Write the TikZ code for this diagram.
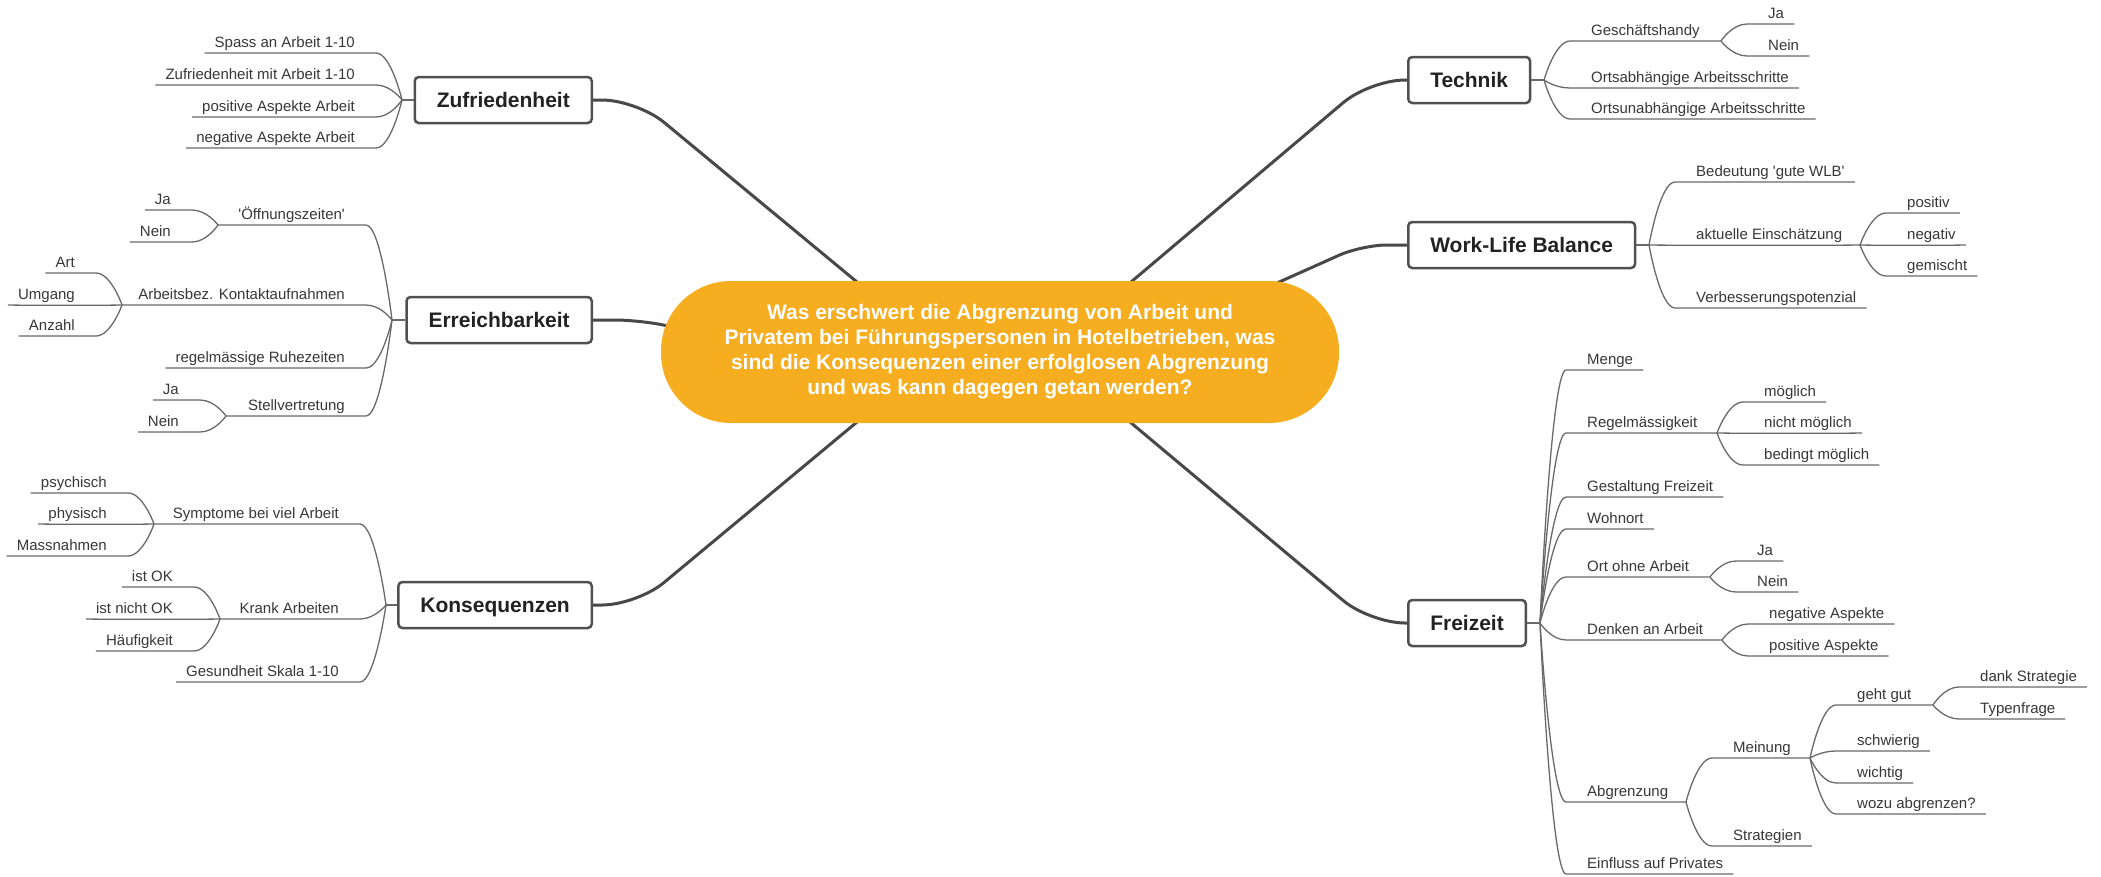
\documentclass[tikz,border=0pt]{standalone}
\usepackage{fontspec}
\newfontfamily\lsans{Liberation Sans}
\usetikzlibrary{calc}
\definecolor{orng}{RGB}{246,173,31}
\definecolor{boxline}{RGB}{80,80,80}
\definecolor{connc}{RGB}{72,72,72}
\definecolor{leafline}{RGB}{105,105,105}
\definecolor{txt}{RGB}{55,55,55}
\definecolor{btxt}{RGB}{34,34,34}
\tikzset{
  mainbox/.style={draw=boxline, line width=2.5pt, rounded corners=4pt, fill=white,
    font=\lsans\fontsize{21}{25}\selectfont\bfseries, text=btxt, inner xsep=22pt, inner ysep=0pt,
    text height=15pt, text depth=0pt, minimum height=46pt},
  centerbox/.style={fill=orng, rounded corners=70pt, minimum width=678pt, minimum height=142pt,
    font=\lsans\fontsize{21}{25}\selectfont\bfseries, text=white, align=center, inner sep=0pt},
  leaf/.style={font=\lsans\fontsize{15}{18}\selectfont, text=txt, inner sep=0pt,
    text height=11pt, text depth=5.5pt},
  ul/.style={draw=leafline, line width=1.3pt},
  mainconn/.style={draw=connc, line width=3pt},
  brL/.style={to path={.. controls +(0,0) and +(15,0) .. (\tikztotarget)}},
  brR/.style={to path={.. controls +(0,0) and +(-15,0) .. (\tikztotarget)}},
  flatL/.style={to path={.. controls +(-20,0.4) and +(20,0.4) .. (\tikztotarget)}},
  flatR/.style={to path={.. controls +(20,0.4) and +(-20,0.4) .. (\tikztotarget)}},
}
% left leaf / left parent / left middle leaf
\newcommand\mmLL[5]{%
  \node[leaf,anchor=south east] (#1) at (#3-47,#4) {#5};
  \draw[ul] (#2) to[brL] ([xshift=21pt]#1.south east) -- ([xshift=-10pt]#1.south west);
}
\newcommand\mmLP[6]{%
  \node[leaf,anchor=south east] (#1) at (#3-47,#4) {#6};
  \coordinate (#1j) at (#5,#4);
  \draw[ul] (#2) to[brL] ([xshift=21pt]#1.south east) -- (#1j);
}
\newcommand\mmLM[5]{%
  \node[leaf,anchor=south east] (#1) at (#3-47,#4) {#5};
  \draw[ul] (#2) to[flatL] ([xshift=-10pt]#1.south west);
}
% right leaf / right parent / right middle parent / right middle leaf
\newcommand\mmRL[5]{%
  \node[leaf,anchor=south west] (#1) at (#3+47,#4) {#5};
  \draw[ul] (#2) to[brR] ([xshift=-21pt]#1.south west) -- ([xshift=10pt]#1.south east);
}
\newcommand\mmRP[6]{%
  \node[leaf,anchor=south west] (#1) at (#3+47,#4) {#6};
  \coordinate (#1j) at (#5,#4);
  \draw[ul] (#2) to[brR] ([xshift=-21pt]#1.south west) -- (#1j);
}
\newcommand\mmRPM[6]{%
  \node[leaf,anchor=south west] (#1) at (#3+47,#4) {#6};
  \coordinate (#1j) at (#5,#4);
  \draw[ul] (#2) to[flatR] (#1j);
}
\newcommand\mmRM[5]{%
  \node[leaf,anchor=south west] (#1) at (#3+47,#4) {#5};
  \draw[ul] (#2) to[flatR] ([xshift=10pt]#1.south east);
}
\begin{document}
\begin{tikzpicture}[x=1pt,y=-1pt]
\useasboundingbox (0,0) rectangle (2101,876);

% ---------- main topic boxes ----------
\node[mainbox, anchor=east] (Z) at (593,100) {Zufriedenheit};
\node[mainbox, anchor=east] (E) at (593,320) {Erreichbarkeit};
\node[mainbox, anchor=east] (K) at (593,605) {Konsequenzen};
\node[mainbox, anchor=west] (T) at (1407,80) {Technik};
\node[mainbox, anchor=west] (W) at (1407,245) {Work-Life Balance};
\node[mainbox, anchor=west] (F) at (1407,623) {Freizeit};

% ---------- attach points on the central topic ----------
\coordinate (qZ) at (857,282);
\coordinate (qE) at (668,326);
\coordinate (qK) at (857,422);
\coordinate (qT) at (1131,282);
\coordinate (qW) at (1277,283);
\coordinate (qF) at (1130,422);

\draw[mainconn, rounded corners=35pt] (Z.east) -- (637,100) -- (qZ);
\draw[mainconn, rounded corners=25pt] (E.east) -- (640,320) -- (qE);
\draw[mainconn, rounded corners=35pt] (K.east) -- (637,605) -- (qK);
\draw[mainconn, rounded corners=35pt] (T.west) -- (1370,80) -- (qT);
\draw[mainconn, rounded corners=25pt] (W.west) -- (1362,245) -- (qW);
\draw[mainconn, rounded corners=35pt] (F.west) -- (1370,623) -- (qF);

\node[centerbox] (Q) at (1000,352) {Was erschwert die Abgrenzung von Arbeit und\\Privatem bei Führungspersonen in Hotelbetrieben, was\\sind die Konsequenzen einer erfolglosen Abgrenzung\\und was kann dagegen getan werden?};

% ---------- Zufriedenheit ----------
\coordinate (jZ) at (402,100);
\draw[ul] (Z.west) -- (jZ);
\mmLL{z1}{jZ}{402}{53}{Spass an Arbeit 1-10}
\mmLL{z2}{jZ}{402}{85}{Zufriedenheit mit Arbeit 1-10}
\mmLL{z3}{jZ}{402}{117}{positive Aspekte Arbeit}
\mmLL{z4}{jZ}{402}{148}{negative Aspekte Arbeit}

% ---------- Erreichbarkeit ----------
\coordinate (jE) at (392,320);
\draw[ul] (E.west) -- (jE);
\mmLP{e1}{jE}{392}{225}{218}{'Öffnungszeiten'}
\mmLL{e11}{e1j}{218}{210}{Ja}
\mmLL{e12}{e1j}{218}{242}{Nein}
\mmLP{e2}{jE}{392}{305}{122}{Arbeitsbez. Kontaktaufnahmen}
\mmLL{e21}{e2j}{122}{273}{Art}
\mmLM{e22}{e2j}{122}{305}{Umgang}
\mmLL{e23}{e2j}{122}{336}{Anzahl}
\mmLL{e3}{jE}{392}{368}{regelmässige Ruhezeiten}
\mmLP{e4}{jE}{392}{416}{226}{Stellvertretung}
\mmLL{e41}{e4j}{226}{400}{Ja}
\mmLL{e42}{e4j}{226}{432}{Nein}

% ---------- Konsequenzen ----------
\coordinate (jK) at (386,605);
\draw[ul] (K.west) -- (jK);
\mmLP{k1}{jK}{386}{524}{154}{Symptome bei viel Arbeit}
\mmLL{k11}{k1j}{154}{493}{psychisch}
\mmLM{k12}{k1j}{154}{524}{physisch}
\mmLL{k13}{k1j}{154}{556}{Massnahmen}
\mmLP{k2}{jK}{386}{619}{220}{Krank Arbeiten}
\mmLL{k21}{k2j}{220}{587}{ist OK}
\mmLM{k22}{k2j}{220}{619}{ist nicht OK}
\mmLL{k23}{k2j}{220}{651}{Häufigkeit}
\mmLL{k3}{jK}{386}{682}{Gesundheit Skala 1-10}

% ---------- Technik ----------
\coordinate (jT) at (1544,80);
\draw[ul] (T.east) -- (jT);
\mmRP{t1}{jT}{1544}{41}{1721}{Geschäftshandy}
\mmRL{t11}{t1j}{1721}{24}{Ja}
\mmRL{t12}{t1j}{1721}{56}{Nein}
\mmRL{t2}{jT}{1544}{88}{Ortsabhängige Arbeitsschritte}
\mmRL{t3}{jT}{1544}{119}{Ortsunabhängige Arbeitsschritte}

% ---------- Work-Life Balance ----------
\coordinate (jW) at (1649,245);
\draw[ul] (W.east) -- (jW);
\mmRL{w1}{jW}{1649}{182}{Bedeutung 'gute WLB'}
\mmRPM{w2}{jW}{1649}{245}{1860}{aktuelle Einschätzung}
\mmRL{w21}{w2j}{1860}{213}{positiv}
\mmRM{w22}{w2j}{1860}{245}{negativ}
\mmRL{w23}{w2j}{1860}{276}{gemischt}
\mmRL{w3}{jW}{1649}{308}{Verbesserungspotenzial}

% ---------- Freizeit ----------
\coordinate (jF) at (1540,623);
\draw[ul] (F.east) -- (jF);
\mmRL{f1}{jF}{1540}{370}{Menge}
\mmRP{f2}{jF}{1540}{433}{1717}{Regelmässigkeit}
\mmRL{f21}{f2j}{1717}{402}{möglich}
\mmRM{f22}{f2j}{1717}{433}{nicht möglich}
\mmRL{f23}{f2j}{1717}{465}{bedingt möglich}
\mmRL{f3}{jF}{1540}{497}{Gestaltung Freizeit}
\mmRL{f4}{jF}{1540}{529}{Wohnort}
\mmRP{f5}{jF}{1540}{577}{1710}{Ort ohne Arbeit}
\mmRL{f51}{f5j}{1710}{561}{Ja}
\mmRL{f52}{f5j}{1710}{592}{Nein}
\mmRP{f6}{jF}{1540}{640}{1722}{Denken an Arbeit}
\mmRL{f61}{f6j}{1722}{624}{negative Aspekte}
\mmRL{f62}{f6j}{1722}{656}{positive Aspekte}
\mmRP{f7}{jF}{1540}{802}{1686}{Abgrenzung}
\mmRP{f71}{f7j}{1686}{758}{1810}{Meinung}
\mmRP{f711}{f71j}{1810}{705}{1933}{geht gut}
\mmRL{f7111}{f711j}{1933}{687}{dank Strategie}
\mmRL{f7112}{f711j}{1933}{719}{Typenfrage}
\mmRL{f712}{f71j}{1810}{751}{schwierig}
\mmRL{f713}{f71j}{1810}{783}{wichtig}
\mmRL{f714}{f71j}{1810}{814}{wozu abgrenzen?}
\mmRL{f72}{f7j}{1686}{846}{Strategien}
\mmRL{f8}{jF}{1540}{874}{Einfluss auf Privates}
\end{tikzpicture}
\end{document}
